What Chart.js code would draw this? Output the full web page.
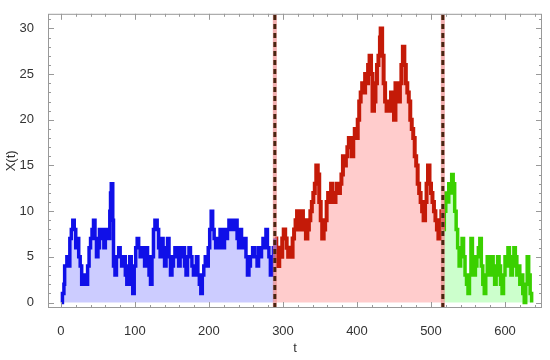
<!DOCTYPE html>
<html>
<head>
<meta charset="utf-8">
<script src="https://cdn.jsdelivr.net/npm/chart.js@4.4.0/dist/chart.umd.min.js"></script>
<style>
  html, body { margin: 0; padding: 0; background: #fff; }
  #wrap { width: 550px; height: 360px; }
</style>
</head>
<body>
<div id="wrap"><canvas id="graph1"></canvas></div>
<script>
// change points of the walk
var tBlue = [0, 2, 4, 5, 8, 10, 12, 14, 16, 18, 20, 22, 24, 26, 28, 31, 34, 36, 38, 40, 42, 44, 46, 48, 50, 52, 54, 56, 58, 60, 62, 64, 66, 67, 68, 70, 71, 73, 75, 78, 80, 82, 85, 87, 89, 91, 93, 95, 97, 99, 101, 103, 105, 107, 109, 111, 113, 115, 117, 119, 121, 123, 125, 127, 130, 132, 134, 136, 138, 140, 142, 144, 146, 148, 150, 152, 154, 157, 159, 161, 163, 165, 167, 169, 171, 173, 175, 177, 179, 181, 183, 185, 187, 189, 191, 193, 195, 197, 199, 201, 203, 205, 207, 209, 211, 213, 215, 217, 219, 221, 223, 225, 227, 230, 232, 234, 236, 238, 240, 242, 244, 246, 248, 250, 252, 254, 256, 259, 262, 265, 267, 269, 271, 273, 275, 277, 279, 281, 283, 285, 287, 289];
var xBlue = [0, 1, 2, 4, 5, 4, 7, 8, 9, 8, 6, 7, 5, 4, 2, 3, 2, 4, 6, 7, 8, 9, 7, 5, 6, 8, 7, 8, 6, 7, 8, 7, 10, 12, 13, 9, 4, 3, 5, 6, 5, 4, 5, 3, 2, 4, 5, 2, 1, 4, 6, 7, 6, 5, 6, 5, 4, 6, 5, 3, 2, 5, 8, 9, 8, 6, 5, 7, 6, 4, 5, 7, 5, 3, 4, 5, 6, 5, 4, 6, 5, 6, 4, 3, 5, 6, 5, 4, 3, 4, 5, 3, 2, 1, 3, 4, 5, 4, 6, 8, 10, 8, 7, 6, 7, 6, 8, 7, 6, 8, 7, 8, 9, 8, 9, 8, 9, 7, 6, 8, 7, 6, 7, 5, 3, 4, 5, 6, 5, 4, 6, 5, 6, 7, 6, 8, 6, 5, 3, 5, 6, 7];

var tRed = [289, 291, 293, 295, 297, 299, 301, 303, 305, 307, 309, 311, 313, 315, 317, 319, 321, 323, 325, 327, 329, 331, 333, 335, 337, 339, 341, 343, 345, 347, 349, 351, 353, 355, 357, 359, 361, 363, 365, 367, 369, 371, 373, 375, 377, 379, 381, 383, 385, 387, 389, 391, 393, 395, 397, 399, 401, 403, 405, 407, 409, 411, 413, 415, 417, 419, 421, 423, 425, 427, 429, 431, 432, 434, 436, 438, 440, 442, 444, 446, 448, 450, 452, 454, 456, 458, 460, 462, 464, 466, 468, 470, 472, 474, 476, 478, 480, 482, 484, 486, 488, 490, 492, 494, 496, 498, 500, 502, 504, 506, 508, 510, 512, 514, 516];
var xRed = [7, 5, 4, 6, 5, 7, 8, 7, 6, 5, 6, 5, 7, 8, 9, 10, 8, 9, 10, 8, 9, 7, 8, 9, 10, 11, 12, 13, 15, 14, 11, 9, 7, 8, 9, 11, 12, 11, 13, 12, 11, 12, 13, 12, 13, 14, 16, 15, 16, 17, 18, 17, 16, 18, 19, 18, 20, 22, 23, 24, 23, 25, 24, 26, 27, 25, 21, 22, 24, 26, 27, 29, 30, 27, 24, 22, 21, 22, 21, 23, 21, 20, 24, 23, 22, 24, 26, 28, 26, 24, 23, 22, 20, 19, 18, 16, 15, 13, 12, 11, 10, 9, 11, 13, 15, 13, 12, 11, 10, 9, 8, 7, 9, 10, 8];

var tGreen = [516, 518, 520, 522, 524, 526, 528, 530, 532, 534, 536, 538, 540, 542, 544, 546, 548, 550, 552, 554, 556, 558, 560, 562, 564, 566, 568, 570, 572, 574, 576, 578, 580, 582, 584, 586, 588, 590, 592, 594, 596, 598, 600, 602, 604, 606, 608, 610, 612, 614, 616, 618, 620, 622, 624, 626, 628, 630, 632, 634, 636];
var xGreen = [8, 10, 12, 11, 13, 12, 14, 13, 10, 8, 6, 4, 5, 7, 5, 3, 2, 1, 3, 7, 5, 3, 4, 5, 6, 7, 4, 2, 1, 3, 5, 4, 3, 5, 4, 2, 3, 5, 4, 2, 1, 3, 5, 4, 6, 5, 3, 4, 6, 5, 3, 4, 2, 3, 1, 0, 2, 5, 3, 1, 0];

var switchTimes = [289, 516];

function pts(ts, xs) {
  return ts.map(function (t, i) { return { x: t, y: xs[i] }; });
}

var yMin = -0.6, yMax = 31.6;

var datasets = [];
switchTimes.forEach(function (s) {
  datasets.push({
    data: [{ x: s, y: yMin }, { x: s, y: yMax }],
    borderColor: '#4a2410',
    borderWidth: 3,
    borderDash: [5, 4],
    pointRadius: 0,
    fill: false,
    order: 0
  });
  datasets.push({
    data: [{ x: s, y: yMin }, { x: s, y: yMax }],
    borderColor: 'rgba(235,140,140,0.7)',
    borderWidth: 4,
    pointRadius: 0,
    fill: false,
    order: 1
  });
});
datasets.push({
  data: pts(tBlue, xBlue), stepped: true,
  borderColor: '#1010e8', backgroundColor: 'rgba(0,0,255,0.2)',
  borderWidth: 3.5, pointRadius: 0, fill: 'origin', order: 2
});
datasets.push({
  data: pts(tRed, xRed), stepped: true,
  borderColor: '#c41a08', backgroundColor: 'rgba(255,0,0,0.2)',
  borderWidth: 4, pointRadius: 0, fill: 'origin', order: 2
});
datasets.push({
  data: pts(tGreen, xGreen), stepped: true,
  borderColor: '#3ad000', backgroundColor: 'rgba(0,255,0,0.2)',
  borderWidth: 3.5, pointRadius: 0, fill: 'origin', order: 2
});

// frame with ticks on all four sides, pointing inwards
var frameTicks = {
  id: 'frameTicks',
  afterDraw: function (chart) {
    var ctx = chart.ctx, a = chart.chartArea;
    var xs = chart.scales.x, ys = chart.scales.y;
    ctx.save();
    ctx.strokeStyle = '#999';
    ctx.lineWidth = 1;
    ctx.strokeRect(a.left + 0.5, a.top + 0.5, a.right - a.left - 1, a.bottom - a.top - 1);
    ctx.beginPath();
    for (var v = Math.ceil(xs.min / 20) * 20; v <= xs.max; v += 20) {
      var px = Math.round(xs.getPixelForValue(v)) + 0.5;
      var len = (v % 100 === 0) ? 6 : 3;
      ctx.moveTo(px, a.bottom); ctx.lineTo(px, a.bottom - len);
      ctx.moveTo(px, a.top); ctx.lineTo(px, a.top + len);
    }
    for (var w = Math.ceil(ys.min); w <= ys.max; w += 1) {
      var py = Math.round(ys.getPixelForValue(w)) + 0.5;
      var l2 = (w % 5 === 0) ? 6 : 3;
      ctx.moveTo(a.left, py); ctx.lineTo(a.left + l2, py);
      ctx.moveTo(a.right, py); ctx.lineTo(a.right - l2, py);
    }
    ctx.stroke();
    ctx.restore();
  }
};

Chart.defaults.font.family = '"Liberation Sans", Arial, sans-serif';
Chart.defaults.font.size = 13;
Chart.defaults.color = '#333';

var chart = new Chart(document.getElementById('graph1').getContext('2d'), {
  type: 'line',
  data: { datasets: datasets },
  options: {
    responsive: true,
    maintainAspectRatio: false,
    animation: false,
    layout: { padding: { top: 6, right: 8, left: 0, bottom: 0 } },
    plugins: {
      legend: { display: false },
      tooltip: { enabled: false },
      filler: { drawTime: 'beforeDatasetsDraw' }
    },
    scales: {
      x: {
        type: 'linear', min: -17.5, max: 650,
        grid: { display: false }, border: { display: false },
        ticks: { stepSize: 100, includeBounds: false, padding: 8, maxRotation: 0 },
        title: { display: true, text: 't', padding: { top: 4 } },
        afterFit: function (s) { s.height = 52; }
      },
      y: {
        type: 'linear', min: yMin, max: yMax,
        grid: { display: false }, border: { display: false },
        ticks: { stepSize: 5, includeBounds: false, padding: 6 },
        title: { display: true, text: 'X(t)', padding: { bottom: 0 } },
        afterFit: function (s) { s.width = 48; }
      }
    }
  },
  plugins: [frameTicks]
});
</script>
</body>
</html>
